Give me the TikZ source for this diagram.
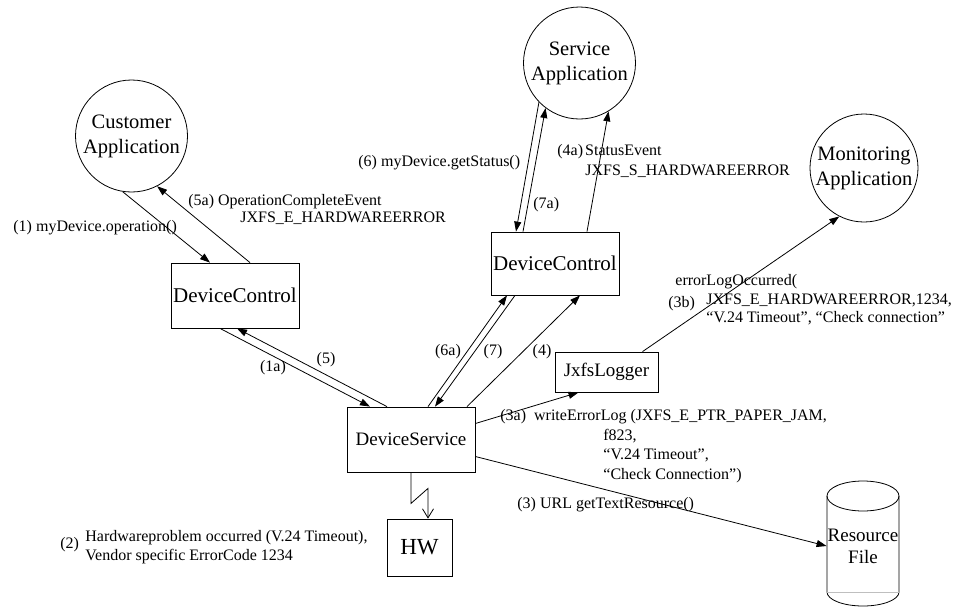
\documentclass[tikz,border=0pt]{standalone}
\usepackage{fontspec}
\setmainfont{Liberation Serif}
\usetikzlibrary{arrows.meta}

\begin{document}
\begin{tikzpicture}[x=1pt, y=-1pt, line width=0.8pt,
    app/.style={draw, circle, inner sep=0pt, align=center, font=\fontsize{20.5}{25}\selectfont},
    box/.style={draw, rectangle, inner sep=0pt, font=\fontsize{19}{22}\selectfont},
    lbl/.style={inner sep=0pt, align=left, font=\fontsize{16}{19}\selectfont},
    msg/.style={-{Triangle[length=10pt,width=7pt]}}]
    \useasboundingbox (0,0) rectangle (959,606);

    \node[app, minimum size=112pt] (cust) at (131.5,136) {Customer\\Application};
    \node[app, minimum size=112pt] (serv) at (579.5,63) {Service\\Application};
    \node[app, minimum size=108pt] (mon) at (864,168) {Monitoring\\Application};

    \node[box, minimum width=128pt, minimum height=65pt, font=\fontsize{21}{24}\selectfont] (dcl) at (235,295.5) {DeviceControl};
    \node[box, minimum width=128pt, minimum height=63pt, font=\fontsize{21}{24}\selectfont] (dcm) at (555,263.5) {DeviceControl};
    \node[box, minimum width=128pt, minimum height=65pt] (ds) at (411,439.5) {DeviceService};
    \node[box, minimum width=103pt, minimum height=40pt] (log) at (606.5,372) {JxfsLogger};
    \node[box, minimum width=65pt, minimum height=57pt, font=\fontsize{23}{26}\selectfont] (hw) at (419.5,547.5) {HW};
    \node[align=center, inner sep=0pt, minimum width=72pt, font=\fontsize{19}{22}\selectfont] (res) at (863,546) {Resource\\File};

    \draw ([yshift=50pt]res.center) ellipse [x radius=36pt, y radius=15pt];
    \draw ([shift={(-36pt,50pt)}]res.center) -- ++(0pt,-96pt) arc [start angle=180, end angle=360, x radius=36pt, y radius=14pt] -- ++(0pt,96pt);
    \draw[gray!50] ([shift={(-36pt,-46pt)}]res.center) -- ++(72pt,0pt);

    \draw[msg] (cust.261) -- ([xshift=-25pt]dcl.north);
    \draw[msg] ([xshift=15pt]dcl.north) -- (cust.297);
    \draw[msg] ([xshift=-15pt]dcl.south) -- ([xshift=-41pt]ds.north);
    \draw[msg] ([xshift=-24pt]ds.north) -- ([xshift=2pt]dcl.south);
    \draw[msg] (serv.224) -- ([xshift=-39pt]dcm.north);
    \draw[msg] ([xshift=-32pt]dcm.north) -- (serv.233);
    \draw[msg] ([xshift=32pt]dcm.north) -- (serv.301);
    \draw[msg] ([xshift=17pt]ds.north) -- ([xshift=-48pt]dcm.south);
    \draw[msg] ([xshift=-40pt]dcm.south) -- ([xshift=24pt]ds.north);
    \draw[msg] ([xshift=56pt]ds.north) -- ([xshift=25pt]dcm.south);
    \draw[msg] ([yshift=16pt]ds.east) -- ([xshift=-28pt]log.south);
    \draw[msg] ([xshift=36pt]log.north) -- (mon.243);
    \draw[msg] ([yshift=-17pt]ds.east) -- (res.west);
    \draw[-{Straight Barb[length=9pt,width=11pt]}] (ds.south) -- ++(0,31) -- ++(17,-15) -- ([xshift=8.5pt]hw.north);

    \node[lbl, anchor=west] (l1) at (13,228) {(1) myDevice.operation()};
    \node[lbl, anchor=north west, font=\fontsize{16}{17}\selectfont] (l5a) at (188,194) {(5a) OperationCompleteEvent\\\hspace*{52pt}JXFS\_E\_HARDWAREERROR};
    \node[lbl, anchor=west] (l6) at (358,163) {(6) myDevice.getStatus()};
    \node[lbl, anchor=west] (l7a) at (533,205) {(7a)};
    \node[lbl, anchor=north west, font=\fontsize{16}{20}\selectfont] (l4a) at (557,144) {(4a)\hspace{2pt}StatusEvent\\\hspace*{28pt}JXFS\_S\_HARDWAREERROR};
    \node[lbl] (l1a) at (273,368) {(1a)};
    \node[lbl] (l5) at (326,360) {(5)};
    \node[lbl] (l6a) at (448,352) {(6a)};
    \node[lbl] (l7) at (493,352) {(7)};
    \node[lbl] (l4) at (542,352) {(4)};
    \node[lbl, anchor=north west, font=\fontsize{16}{19.5}\selectfont] (l3a) at (500,409) {(3a)\ \ writeErrorLog (JXFS\_E\_PTR\_PAPER\_JAM,\\\hspace*{103pt}f823,\\\hspace*{103pt}“V.24 Timeout”,\\\hspace*{103pt}“Check Connection”)};
    \node[lbl, anchor=north west, font=\fontsize{16}{18.5}\selectfont] (l3b) at (675,274) {errorLogOccurred(\\\hspace*{31pt}JXFS\_E\_HARDWAREERROR,1234,\\\hspace*{31pt}“V.24 Timeout”, “Check connection”};
    \node[lbl, anchor=west] (n3b) at (668,304) {(3b)};
    \node[lbl, anchor=west] (l3) at (517,505) {(3) URL getTextResource()};
    \node[lbl, anchor=west] (n2) at (60,545) {(2)};
    \node[lbl, anchor=west] (l2) at (85,547.5) {Hardwareproblem occurred (V.24 Timeout),\\Vendor specific ErrorCode 1234};
\end{tikzpicture}
\end{document}
